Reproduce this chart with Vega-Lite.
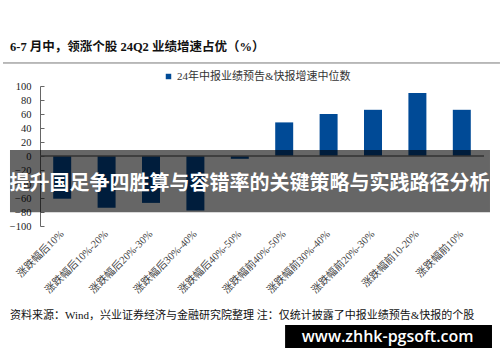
{
  "$schema": "https://vega.github.io/schema/vega-lite/v6.json",
  "width": 444,
  "height": 140,
  "autosize": "none",
  "padding": {"left": 40, "top": 86, "right": 16, "bottom": 136},
  "background": "white",
  "config": {"view": {"stroke": null}},
  "layer": [
    {
      "data": {
        "values": [
          {"cat": "涨跌幅后10%", "value": -61, "series": "24年中报业绩预告&快报增速中位数"},
          {"cat": "涨跌幅后10%-20%", "value": -74, "series": "24年中报业绩预告&快报增速中位数"},
          {"cat": "涨跌幅后20%-30%", "value": -67, "series": "24年中报业绩预告&快报增速中位数"},
          {"cat": "涨跌幅后30%-40%", "value": -78, "series": "24年中报业绩预告&快报增速中位数"},
          {"cat": "涨跌幅后40%-50%", "value": -4, "series": "24年中报业绩预告&快报增速中位数"},
          {"cat": "涨跌幅前40%-50%", "value": 48, "series": "24年中报业绩预告&快报增速中位数"},
          {"cat": "涨跌幅前30%-40%", "value": 60, "series": "24年中报业绩预告&快报增速中位数"},
          {"cat": "涨跌幅前20%-30%", "value": 66, "series": "24年中报业绩预告&快报增速中位数"},
          {"cat": "涨跌幅前10-20%", "value": 90, "series": "24年中报业绩预告&快报增速中位数"},
          {"cat": "涨跌幅前10%", "value": 66, "series": "24年中报业绩预告&快报增速中位数"}
        ]
      },
      "mark": {"type": "bar"},
      "encoding": {
        "x": {
          "field": "cat", "type": "nominal", "sort": null,
          "scale": {"paddingInner": 0.595, "paddingOuter": 0.2975},
          "axis": {
            "title": null, "domain": false, "ticks": false, "grid": false,
            "labelAngle": -45, "labelAlign": "right", "labelBaseline": "middle",
            "labelPadding": 6, "labelFontSize": 10.5, "labelColor": "#444444",
            "labelFont": "Liberation Serif, Noto Sans CJK SC", "labelOverlap": false
          }
        },
        "y": {
          "field": "value", "type": "quantitative",
          "scale": {"domain": [-100, 100], "nice": false, "zero": false},
          "axis": {
            "title": null, "grid": false, "values": [-100, -80, -60, -40, -20, 0, 20, 40, 60, 80, 100],
            "domainColor": "#666666", "tickColor": "#666666", "tickSize": -4,
            "labelPadding": 13, "labelFontSize": 10.5, "labelColor": "#222222",
            "labelFont": "Liberation Serif", "labelOverlap": false, "labelFlush": false
          }
        },
        "color": {
          "field": "series", "type": "nominal",
          "scale": {"range": ["#004a96"]},
          "legend": {
            "title": null, "orient": "none", "legendX": 123, "legendY": -15,
            "symbolType": "square", "symbolSize": 30, "labelOffset": 3,
            "labelFontSize": 11, "labelColor": "#333333", "padding": 0,
            "labelFont": "Liberation Serif, Noto Sans CJK SC", "labelLimit": 400
          }
        }
      }
    },
    {
      "data": {"values": [{}]},
      "mark": {"type": "rule", "color": "#7f7f7f", "strokeWidth": 1.5},
      "encoding": {
        "y": {"datum": 0, "type": "quantitative", "scale": {"domain": [-100, 100], "nice": false, "zero": false}, "axis": null}
      }
    },
    {
      "data": {"values": [{}]},
      "mark": {"type": "rule", "color": "#777777", "strokeWidth": 1},
      "encoding": {
        "x": {"datum": -8.33, "type": "quantitative", "scale": {"domain": [0, 100], "nice": false, "zero": false}, "axis": null},
        "x2": {"datum": 103.6},
        "y": {"datum": 132.9, "type": "quantitative", "scale": {"domain": [-100, 100], "nice": false, "zero": false}, "axis": null}
      }
    },
    {
      "data": {"values": [{}]},
      "mark": {"type": "text", "text": "6-7 月中，领涨个股 24Q2 业绩增速占优（%）", "align": "left", "baseline": "middle", "fontSize": 12.5, "fontWeight": "bold", "font": "Liberation Serif, Noto Sans CJK SC", "color": "#111111"},
      "encoding": {
        "x": {"datum": -6.76, "type": "quantitative", "scale": {"domain": [0, 100], "nice": false, "zero": false}, "axis": null},
        "y": {"datum": 155.7, "type": "quantitative", "scale": {"domain": [-100, 100], "nice": false, "zero": false}, "axis": null}
      }
    },
    {
      "data": {"values": [{}]},
      "mark": {"type": "rect", "color": "#000000", "opacity": 0.6},
      "encoding": {
        "x": {"datum": -6.76, "type": "quantitative", "scale": {"domain": [0, 100], "nice": false, "zero": false}, "axis": null},
        "x2": {"datum": 101.35},
        "y": {"datum": 8.57, "type": "quantitative", "scale": {"domain": [-100, 100], "nice": false, "zero": false}, "axis": null},
        "y2": {"datum": -80.4}
      }
    },
    {
      "data": {"values": [{}]},
      "mark": {"type": "text", "text": "提升国足争四胜算与容错率的关键策略与实践路径分析", "align": "center", "baseline": "middle", "fontSize": 20, "fontWeight": "bold", "font": "Noto Sans CJK SC", "color": "#ffffff"},
      "encoding": {
        "x": {"datum": 47.2, "type": "quantitative", "scale": {"domain": [0, 100], "nice": false, "zero": false}, "axis": null},
        "y": {"datum": -40, "type": "quantitative", "scale": {"domain": [-100, 100], "nice": false, "zero": false}, "axis": null}
      }
    },
    {
      "data": {"values": [{}]},
      "mark": {"type": "text", "text": "资料来源：Wind，兴业证券经济与金融研究院整理  注：仅统计披露了中报业绩预告&快报的个股", "align": "left", "baseline": "middle", "fontSize": 11, "font": "Liberation Serif, Noto Sans CJK SC", "color": "#111111"},
      "encoding": {
        "x": {"datum": -6.76, "type": "quantitative", "scale": {"domain": [0, 100], "nice": false, "zero": false}, "axis": null},
        "y": {"datum": -228.6, "type": "quantitative", "scale": {"domain": [-100, 100], "nice": false, "zero": false}, "axis": null}
      }
    },
    {
      "data": {"values": [{}]},
      "mark": {"type": "rect", "color": "#000000"},
      "encoding": {
        "x": {"datum": 55.2, "type": "quantitative", "scale": {"domain": [0, 100], "nice": false, "zero": false}, "axis": null},
        "x2": {"datum": 101.8},
        "y": {"datum": -241.4, "type": "quantitative", "scale": {"domain": [-100, 100], "nice": false, "zero": false}, "axis": null},
        "y2": {"datum": -274.3}
      }
    },
    {
      "data": {"values": [{}]},
      "mark": {"type": "text", "text": "www.zhhk-pgsoft.com", "align": "center", "baseline": "middle", "fontSize": 16, "fontWeight": 600, "font": "Open Sans", "color": "#ffffff"},
      "encoding": {
        "x": {"datum": 78.3, "type": "quantitative", "scale": {"domain": [0, 100], "nice": false, "zero": false}, "axis": null},
        "y": {"datum": -257.9, "type": "quantitative", "scale": {"domain": [-100, 100], "nice": false, "zero": false}, "axis": null}
      }
    }
  ],
  "resolve": {"scale": {"x": "independent"}, "axis": {"y": "independent"}}
}
